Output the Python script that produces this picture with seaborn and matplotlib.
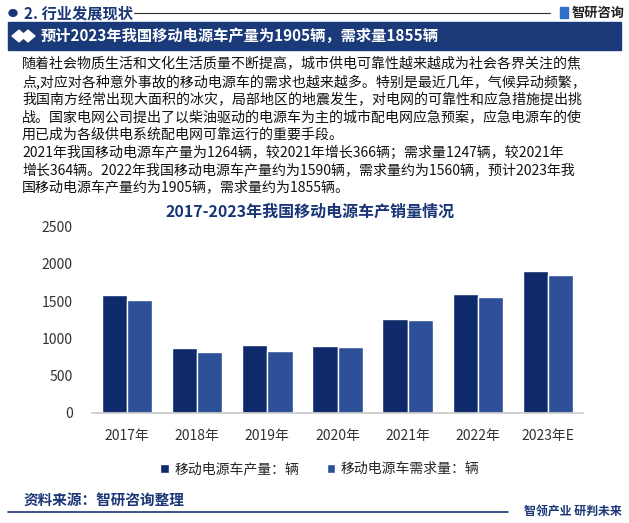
import pandas as pd
import matplotlib.pyplot as plt
import seaborn as sns
from matplotlib.patches import Rectangle, Circle, RegularPolygon
from matplotlib.lines import Line2D

# data
years = ['2017年', '2018年', '2019年', '2020年', '2021年', '2022年', '2023年E']
production = [1580, 868, 905, 898, 1264, 1590, 1905]
demand = [1513, 815, 828, 883, 1247, 1560, 1855]
series_names = ['移动电源车产量：辆', '移动电源车需求量：辆']
colors = ['#0f2a6b', '#2e5098']

header = '2. 行业发展现状'
banner = '预计2023年我国移动电源车产量为1905辆，需求量1855辆'
chart_title = '2017-2023年我国移动电源车产销量情况'
body_lines = [
    '随着社会物质生活和文化生活质量不断提高，城市供电可靠性越来越成为社会各界关注的焦',
    '点,对应对各种意外事故的移动电源车的需求也越来越多。特别是最近几年，气候异动频繁，',
    '我国南方经常出现大面积的冰灾，局部地区的地震发生，对电网的可靠性和应急措施提出挑',
    '战。国家电网公司提出了以柴油驱动的电源车为主的城市配电网应急预案，应急电源车的使',
    '用已成为各级供电系统配电网可靠运行的重要手段。',
    '2021年我国移动电源车产量为1264辆，较2021年增长366辆；需求量1247辆，较2021年',
    '增长364辆。2022年我国移动电源车产量约为1590辆，需求量约为1560辆，预计2023年我',
    '国移动电源车产量约为1905辆，需求量约为1855辆。',
]
source = '资料来源：智研咨询整理'
slogan = '智领产业 研判未来'

sns.set_theme(style='white')
plt.rcParams['font.family'] = ['Noto Sans CJK SC', 'DejaVu Sans']

W, H = 629, 523
fig = plt.figure(figsize=(W / 100, H / 100), dpi=100)
navy = '#1b3677'

def fx(px):
    return px / W

def fy(py):
    return 1 - py / H

# header row
fig.patches.append(Circle((fx(13), fy(13)), 4 / W, transform=fig.transFigure, color=navy))
fig.text(fx(24), fy(13), header, fontsize=11, fontweight='bold', color=navy, va='center')
fig.add_artist(Line2D([fx(134), fx(550)], [fy(13), fy(13)], color='#333333', lw=0.8))
fig.patches.append(Rectangle((fx(560), fy(18)), 8 / W, 11 / H, transform=fig.transFigure, color='#2e6fc9'))
fig.text(fx(572), fy(13), '智研咨询', fontsize=9.5, fontweight='bold', color='#222222', va='center')

# banner
fig.patches.append(Rectangle((fx(8), fy(50)), 613 / W, 28 / H, transform=fig.transFigure, color='#1a3a7a'))
for cx in [19, 28]:
    fig.patches.append(RegularPolygon((fx(cx), fy(36)), 4, radius=7 / W,
                                      transform=fig.transFigure, color='white'))
fig.text(fx(41), fy(36), banner, fontsize=11, fontweight='bold', color='white', va='center')

# paragraph
line_y = [64, 82, 100, 118, 135, 153, 170, 187]
for txt, y in zip(body_lines, line_y):
    fig.text(fx(22), fy(y), txt, fontsize=10.05, fontweight='medium', color='#111111', va='center')

# chart title
fig.text(fx(310), fy(212), chart_title, fontsize=11.5, fontweight='bold', color=navy,
         ha='center', va='center')

# bar chart
df = pd.DataFrame({
    'year': years * 2,
    'value': production + demand,
    'series': [series_names[0]] * len(years) + [series_names[1]] * len(years),
})
ax = fig.add_axes([fx(92), fy(412.7), 491 / W, 186 / H])
sns.barplot(data=df, x='year', y='value', hue='series', palette=colors,
            width=0.72, saturation=1, ax=ax)
ax.set_xlim(-0.5, 6.5)
ax.set_ylim(0, 2500)
ax.set_yticks([0, 500, 1000, 1500, 2000, 2500])
ax.set_xlabel('')
ax.set_ylabel('')
ax.tick_params(axis='both', length=0, labelsize=10, labelcolor='#333333')
ax.tick_params(axis='x', pad=12)
ax.tick_params(axis='y', pad=14)
for s in ['top', 'right', 'left']:
    ax.spines[s].set_visible(False)
ax.spines['bottom'].set_color('#cccccc')
ax.set_facecolor('none')

handles, labels = ax.get_legend_handles_labels()
ax.legend_.remove()
fig.legend(handles, labels, loc='center', bbox_to_anchor=(fx(320), fy(469)), ncol=2,
           frameon=False, fontsize=10, handlelength=0.6, handleheight=0.6,
           handletextpad=0.4, columnspacing=2.0)

# footer
fig.text(fx(24), fy(500), source, fontsize=10.5, fontweight='bold', color=navy, va='center')
fig.add_artist(Line2D([fx(8), fx(508)], [fy(512), fy(512)], color=navy, lw=1.2))
fig.text(fx(524), fy(512), slogan, fontsize=8.6, fontweight='bold', color=navy, va='center')

fig.savefig('out.png', dpi=100)
